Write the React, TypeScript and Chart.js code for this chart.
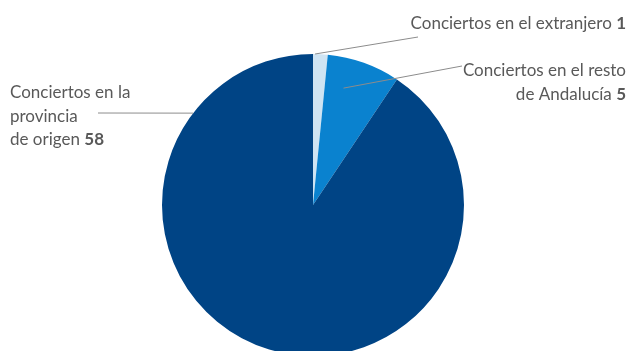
import React, { useEffect, useRef } from "react";
import { Chart, registerables } from "chart.js";

Chart.register(...registerables);

const categories = ["Conciertos en el extranjero", "Conciertos en el resto de Andalucía", "Conciertos en la provincia de origen"];
const values = [1, 5, 58];
const colors = ["#cfe4f3", "#0a82cf", "#004485"];

export default function App() {
  const ref = useRef<HTMLCanvasElement>(null);
  useEffect(() => {
    document.body.style.margin = "0";
    document.body.style.overflow = "hidden";
    const font = "Lato, 'Open Sans', sans-serif";
    const fs = 17;
    const labelPlugin = {
      id: "labels",
      afterDraw(chart: any) {
        const ctx = chart.ctx as CanvasRenderingContext2D;
        const meta = chart.getDatasetMeta(0);
        const anchor = (i: number, f: number, rf: number) => {
          const a = meta.data[i] as any;
          const ang = a.startAngle + (a.endAngle - a.startAngle) * f;
          const r = a.outerRadius * rf;
          return [a.x + Math.cos(ang) * r, a.y + Math.sin(ang) * r];
        };
        ctx.save();
        ctx.strokeStyle = "#8c8c8c";
        ctx.lineWidth = 1;
        const line = (p: number[], x2: number, y2: number) => {
          ctx.beginPath();
          ctx.moveTo(p[0], p[1]);
          ctx.lineTo(x2, y2);
          ctx.stroke();
        };
        line(anchor(0, 0.14, 1), 418, 37);
        line(anchor(1, 0.32, 0.8), 462, 66);
        line(anchor(2, 0.839, 1), 98, 113);
        ctx.textBaseline = "middle";
        const drawRight = (text: string, num: string, xr: number, y: number) => {
          ctx.font = `bold ${fs}px ${font}`;
          const wn = num ? ctx.measureText(num).width : 0;
          ctx.font = `${fs}px ${font}`;
          const sp = num ? ctx.measureText(" ").width : 0;
          ctx.fillStyle = "#595959";
          ctx.textAlign = "right";
          ctx.fillText(text, xr - wn - sp, y);
          if (num) {
            ctx.font = `bold ${fs}px ${font}`;
            ctx.fillText(num, xr, y);
          }
        };
        const drawLeft = (text: string, num: string, x: number, y: number) => {
          ctx.font = `${fs}px ${font}`;
          ctx.fillStyle = "#595959";
          ctx.textAlign = "left";
          ctx.fillText(text, x, y);
          if (num) {
            const w = ctx.measureText(text + " ").width;
            ctx.font = `bold ${fs}px ${font}`;
            ctx.fillText(num, x + w, y);
          }
        };
        drawRight("Conciertos en el extranjero", String(values[0]), 626, 24);
        drawRight("Conciertos en el resto", "", 626, 71);
        drawRight("de Andalucía", String(values[1]), 626, 95);
        drawLeft("Conciertos en la", "", 10, 93);
        drawLeft("provincia", "", 10, 117);
        drawLeft("de origen", String(values[2]), 10, 140);
        ctx.restore();
      },
    };
    const chart = new Chart(ref.current!, {
      type: "pie",
      data: {
        labels: categories,
        datasets: [{ data: values, backgroundColor: colors, borderWidth: 0 }],
      },
      options: {
        responsive: false,
        animation: false,
        layout: { padding: { top: 54, bottom: 54, left: 162, right: 168 } },
        plugins: { legend: { display: false }, tooltip: { enabled: false } },
      },
      plugins: [labelPlugin],
    });
    return () => chart.destroy();
  }, []);
  return (
    <div style={{ position: "fixed", left: 0, top: 0, width: 632, height: 351, overflow: "hidden", background: "#fff" }}>
      <canvas ref={ref} width={632} height={410} style={{ display: "block" }} />
    </div>
  );
}
